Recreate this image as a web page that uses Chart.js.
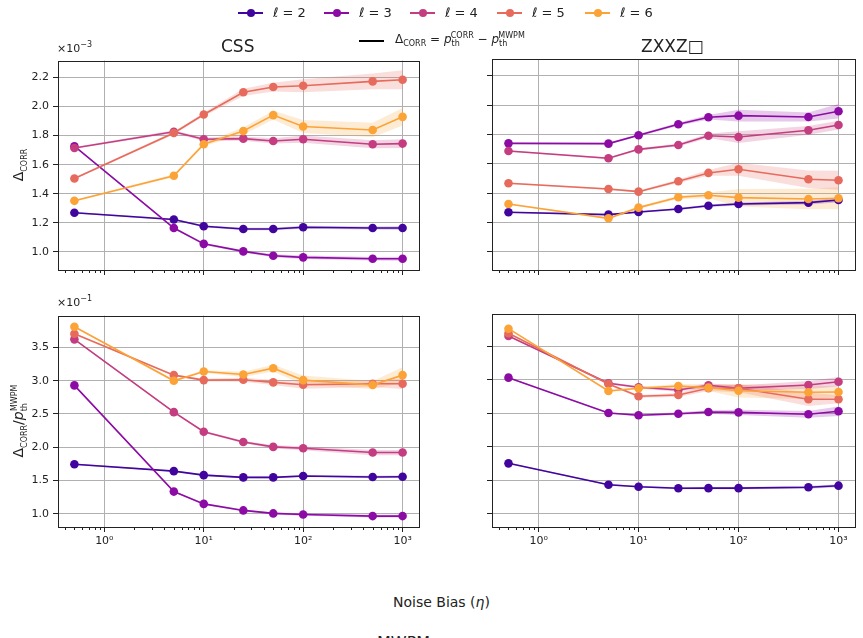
<!DOCTYPE html>
<html>
<head>
<meta charset="utf-8">
<script src="https://cdn.jsdelivr.net/npm/chart.js@4.4.1/dist/chart.umd.min.js"></script>
<style>
 body{margin:0;background:#fff;width:863px;height:638px;position:relative;overflow:hidden;font-family:"DejaVu Sans",sans-serif;color:#222}
 canvas{position:absolute}
 .t{position:absolute;white-space:nowrap;line-height:1}
 .t sub,.t sup{font-size:8px;line-height:0}
 .ylab{position:absolute;transform:rotate(-90deg);transform-origin:center;white-space:nowrap;font-size:14px;line-height:1}
 .ylab sub,.ylab sup{font-size:8px;line-height:0}
 .leg{position:absolute;height:2px}
 .dot{position:absolute;width:8px;height:8px;border-radius:50%}
</style>
</head>
<body>
<canvas id="tl" width="430" height="240" style="left:0;top:50px"></canvas>
<canvas id="tr" width="433" height="240" style="left:430px;top:50px"></canvas>
<canvas id="bl" width="430" height="250" style="left:0;top:305px"></canvas>
<canvas id="br" width="433" height="250" style="left:430px;top:305px"></canvas>

<div id="legend"></div>
<div class="leg" style="left:359px;top:40px;width:25px;background:#000;height:1.6px"></div>
<div class="t" style="left:395px;top:33px;font-size:12px">&Delta;<sub>CORR</sub> = <i>p</i><sub>th</sub><sup style="margin-left:-9px">CORR</sup> &minus; <i>p</i><sub>th</sub><sup style="margin-left:-9px">MWPM</sup></div>

<div class="t" style="left:221px;top:38px;font-size:17px">CSS</div>
<div class="t" style="left:641px;top:38px;font-size:17px">ZXXZ□</div>
<div class="t" style="left:57px;top:43px;font-size:11px">×10<sup style="font-size:8px">−3</sup></div>
<div class="t" style="left:57px;top:297px;font-size:11px">×10<sup style="font-size:8px">−1</sup></div>

<div class="ylab" style="left:-12px;top:158px;width:60px;text-align:center">&Delta;<sub>CORR</sub></div>
<div class="ylab" style="left:-42px;top:414px;width:120px;text-align:center">&Delta;<sub>CORR</sub>/<i>p</i><sub>th</sub><sup style="margin-left:-8px">MWPM</sup></div>

<div class="t" style="left:393px;top:595px;font-size:14px">Noise Bias (<i>η</i>)</div>
<div class="t" style="left:377px;top:635px;font-size:16px">MWPM</div>

<script>
// noise bias values (x) and code distances
const eta = [0.5, 5, 10, 25, 50, 100, 500, 1000];
const ells = [2, 3, 4, 5, 6];
const colors = ["#41049d", "#8d0ba5", "#c33d80", "#e76b5c", "#fca338"];

// CSS, Delta_CORR (x1e-3)
const cssD2 = [1.269,1.223,1.176,1.157,1.157,1.169,1.164,1.164];
const cssD3 = [1.727,1.164,1.055,1.003,0.973,0.962,0.952,0.952];
const cssD4 = [1.715,1.826,1.775,1.779,1.763,1.775,1.740,1.745];
const cssD5 = [1.505,1.818,1.945,2.098,2.134,2.143,2.173,2.184];
const cssD6 = [1.351,1.524,1.740,1.831,1.941,1.863,1.838,1.929];
const cssDErr2 = [0.005,0.006,0.007,0.008,0.008,0.010,0.010,0.012];
const cssDErr3 = [0.005,0.007,0.008,0.008,0.010,0.012,0.012,0.014];
const cssDErr4 = [0.006,0.010,0.012,0.014,0.018,0.025,0.028,0.030];
const cssDErr5 = [0.006,0.010,0.012,0.025,0.030,0.045,0.055,0.065];
const cssDErr6 = [0.006,0.010,0.012,0.025,0.030,0.045,0.050,0.060];

// ZXXZ, Delta_CORR (x1e-3)
const zxD2 = [1.269,1.253,1.271,1.292,1.314,1.326,1.335,1.353];
const zxD3 = [1.740,1.738,1.795,1.870,1.918,1.929,1.920,1.959];
const zxD4 = [1.688,1.638,1.699,1.729,1.792,1.783,1.829,1.865];
const zxD5 = [1.467,1.428,1.410,1.481,1.538,1.563,1.495,1.488];
const zxD6 = [1.326,1.228,1.301,1.372,1.385,1.369,1.360,1.365];
const zxDErr2 = [0.004,0.005,0.006,0.007,0.008,0.010,0.012,0.015];
const zxDErr3 = [0.005,0.006,0.008,0.010,0.015,0.040,0.030,0.050];
const zxDErr4 = [0.005,0.006,0.008,0.010,0.015,0.040,0.030,0.030];
const zxDErr5 = [0.005,0.006,0.008,0.012,0.020,0.045,0.060,0.065];
const zxDErr6 = [0.005,0.006,0.008,0.012,0.020,0.060,0.070,0.075];

// CSS, Delta_CORR / p_th^MWPM (x1e-1)
const cssR2 = [1.745,1.641,1.581,1.547,1.547,1.567,1.552,1.557];
const cssR3 = [2.929,1.334,1.149,1.051,1.006,0.990,0.966,0.966];
const cssR4 = [3.620,2.527,2.233,2.079,2.005,1.984,1.920,1.920];
const cssR5 = [3.705,3.083,3.008,3.013,2.974,2.938,2.953,2.953];
const cssR6 = [3.809,2.998,3.138,3.093,3.187,3.008,2.934,3.083];
const cssRErr2 = [0.010,0.010,0.012,0.014,0.015,0.015,0.018,0.020];
const cssRErr3 = [0.010,0.010,0.012,0.014,0.015,0.020,0.020,0.020];
const cssRErr4 = [0.010,0.012,0.015,0.020,0.025,0.030,0.040,0.040];
const cssRErr5 = [0.010,0.015,0.020,0.030,0.040,0.060,0.050,0.080];
const cssRErr6 = [0.010,0.015,0.020,0.040,0.050,0.070,0.060,0.120];

// ZXXZ, Delta_CORR / p_th^MWPM (x1e-1)
const zxR2 = [1.751,1.432,1.403,1.379,1.381,1.381,1.394,1.418];
const zxR3 = [3.028,2.501,2.467,2.491,2.516,2.511,2.482,2.527];
const zxR4 = [3.650,2.944,2.885,2.844,2.914,2.870,2.919,2.968];
const zxR5 = [3.690,2.934,2.750,2.770,2.870,2.870,2.706,2.706];
const zxR6 = [3.758,2.829,2.870,2.904,2.879,2.834,2.810,2.815];
const zxRErr2 = [0.010,0.012,0.014,0.015,0.016,0.018,0.020,0.022];
const zxRErr3 = [0.010,0.012,0.015,0.020,0.025,0.040,0.050,0.070];
const zxRErr4 = [0.010,0.015,0.020,0.025,0.030,0.040,0.060,0.070];
const zxRErr5 = [0.010,0.015,0.020,0.030,0.040,0.060,0.100,0.060];
const zxRErr6 = [0.010,0.015,0.020,0.030,0.050,0.100,0.100,0.080];

// tick labels
const xTicks = [1, 10, 100, 1000];
const xTickLabels = ["10⁰", "10¹", "10²", "10³"];
const xMinor = [0.4,0.5,0.6,0.7,0.8,0.9,2,3,4,5,6,7,8,9,20,30,40,50,60,70,80,90,200,300,400,500,600,700,800,900];
const deltaTicks = [1.0, 1.2, 1.4, 1.6, 1.8, 2.0, 2.2];
const ratioTicks = [1.0, 1.5, 2.0, 2.5, 3.0, 3.5];

/* ===== legend ===== */
const legX = [238, 324, 410, 497, 585];
const legend = document.getElementById("legend");
ells.forEach((l,i)=>{
 legend.insertAdjacentHTML("beforeend",
  `<div class="leg" style="left:${legX[i]}px;top:12px;width:25px;background:${colors[i]}"></div>`+
  `<div class="dot" style="left:${legX[i]+8.5}px;top:9px;background:${colors[i]}"></div>`+
  `<div class="t" style="left:${legX[i]+35}px;top:6px;font-size:13px"><i>ℓ</i> = ${l}</div>`);
});

/* ===== panels ===== */
const frame = {
 id:"frame",
 afterDraw(c){
  const a=c.chartArea, ctx=c.ctx, xs=c.scales.x;
  ctx.save();
  ctx.strokeStyle="#222"; ctx.lineWidth=1;
  xMinor.forEach(v=>{
   const px=Math.round(xs.getPixelForValue(v))+0.5;
   if(px<a.left||px>a.right) return;
   ctx.beginPath(); ctx.moveTo(px,a.bottom); ctx.lineTo(px,a.bottom+3); ctx.stroke();
  });
  ctx.strokeRect(Math.round(a.left)+0.5,Math.round(a.top)+0.5,Math.round(a.right-a.left),Math.round(a.bottom-a.top));
  ctx.restore();
 }
};

function panel(id, vals, errs, yMin, yMax, yTicks, opt){
 const ds=[];
 vals.forEach((v,i)=>{
  const col=colors[i];
  ds.push({data:eta.map((x,k)=>({x,y:v[k]-errs[i][k]})),borderWidth:0,pointRadius:0,fill:false,order:20});
  ds.push({data:eta.map((x,k)=>({x,y:v[k]+errs[i][k]})),borderWidth:0,pointRadius:0,fill:"-1",
   backgroundColor:col+"38",order:20});
 });
 vals.forEach((v,i)=>{
  ds.push({data:eta.map((x,k)=>({x,y:v[k]})),borderColor:colors[i],backgroundColor:colors[i],
   borderWidth:1.6,pointRadius:4.3,pointBorderWidth:0,pointBackgroundColor:colors[i],
   fill:false,tension:0,order:10-i});
 });
 return new Chart(document.getElementById(id),{
  type:"line",
  data:{datasets:ds},
  plugins:[frame],
  options:{
   responsive:false,animation:false,devicePixelRatio:1,
   layout:{padding:{left:0,right:opt.right,top:9,bottom:0}},
   plugins:{legend:{display:false},tooltip:{enabled:false}},
   scales:{
    x:{type:"logarithmic",min:0.342,max:1462,bounds:"data",
     afterBuildTicks:s=>{s.ticks=xTicks.map(v=>({value:v}));},
     afterFit:s=>{s.height=opt.xh;},
     border:{display:false},
     grid:{color:"#b0b0b0",lineWidth:1,tickColor:"#222",tickLength:5},
     ticks:{display:opt.xlab,autoSkip:false,maxRotation:0,padding:3,color:"#222",
      font:{family:"DejaVu Sans",size:11},
      callback:(v)=>xTickLabels[xTicks.indexOf(v)]}},
    y:{type:"linear",min:yMin,max:yMax,bounds:"data",
     afterBuildTicks:s=>{s.ticks=yTicks.map(v=>({value:v}));},
     afterFit:s=>{s.width=opt.yw;},
     border:{display:false},
     grid:{color:"#b0b0b0",lineWidth:1,tickColor:"#222",tickLength:5},
     ticks:{display:opt.ylab,padding:4,color:"#222",font:{family:"DejaVu Sans",size:11},
      callback:v=>v.toFixed(1)}}
   }
  }
 });
}

panel("tl",[cssD2,cssD3,cssD4,cssD5,cssD6],[cssDErr2,cssDErr3,cssDErr4,cssDErr5,cssDErr6],
 0.875,2.316,deltaTicks,{right:11,xh:20,yw:58,xlab:false,ylab:true});
panel("tr",[zxD2,zxD3,zxD4,zxD5,zxD6],[zxDErr2,zxDErr3,zxDErr4,zxDErr5,zxDErr6],
 0.875,2.316,deltaTicks,{right:8,xh:20,yw:62,xlab:false,ylab:false});
panel("bl",[cssR2,cssR3,cssR4,cssR5,cssR6],[cssRErr2,cssRErr3,cssRErr4,cssRErr5,cssRErr6],
 0.802,3.977,ratioTicks,{right:11,xh:28,yw:58,xlab:true,ylab:true});
panel("br",[zxR2,zxR3,zxR4,zxR5,zxR6],[zxRErr2,zxRErr3,zxRErr4,zxRErr5,zxRErr6],
 0.802,3.977,ratioTicks,{right:8,xh:28,yw:62,xlab:true,ylab:false});
</script>
</body>
</html>
